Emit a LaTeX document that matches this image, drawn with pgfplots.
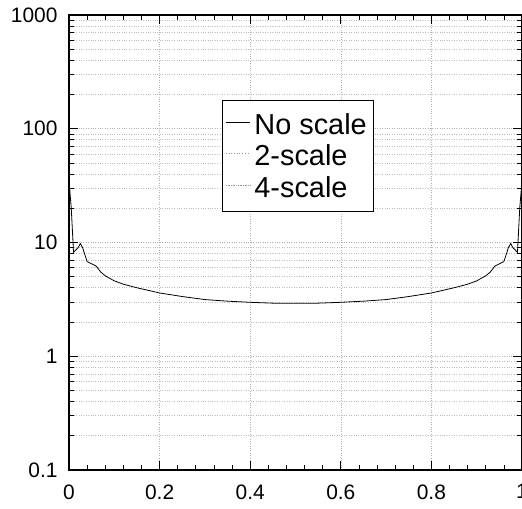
\documentclass[border=0pt]{standalone}
\usepackage{pgfplots}
\pgfplotsset{compat=1.18}
\usepackage{fontspec}
\setmainfont{Liberation Sans}
\begin{document}
\begin{tikzpicture}[trim axis right]
\begin{axis}[
  width=453bp, height=455bp, scale only axis,
  xmin=0, xmax=1, ymin=0.1, ymax=1000,
  ymode=log,
  xtick={0,0.2,0.4,0.6,0.8,1},
  xticklabels={0,0.2,0.4,0.6,0.8,1},
  minor x tick num=4,
  ytick={0.1,1,10,100,1000},
  yticklabels={0.1,1,10,100,1000},
  tick align=inside,
  major tick length=9bp, minor tick length=5bp,
  tick style={black, line width=0.7pt},
  xmajorgrids, ymajorgrids, yminorgrids,
  major grid style={gray!60, dotted, line width=0.6pt},
  minor grid style={gray!50, dotted, line width=0.6pt},
  axis line style={black, line width=1.3pt},
  tick label style={font=\fontsize{21}{21}\selectfont},
  xticklabel style={yshift=-11bp},
  yticklabel style={xshift=-8bp},
  legend style={at={(0.338,0.813)}, anchor=north west, draw=black, line width=1pt,
    font=\fontsize{29}{29}\selectfont, inner xsep=3bp, inner ysep=11bp, row sep=5bp,
    nodes={inner xsep=4bp, inner ysep=2bp}},
  legend cell align=left,
  legend image code/.code={\draw[#1] (0cm,0.25em) -- (24bp,0.25em);},
]
\addplot[black, line width=0.8pt] coordinates {
(0,35) (0.005,20) (0.01,8.2) (0.02,9.0) (0.025,9.8) (0.03,9.0) (0.04,6.8) (0.05,6.5) (0.06,6.2)
(0.07,5.5) (0.08,5.1) (0.1,4.6) (0.12,4.3) (0.15,4.0) (0.2,3.6) (0.25,3.35) (0.3,3.15)
(0.35,3.05) (0.4,2.98) (0.45,2.93) (0.5,2.92)
(0.55,2.93) (0.6,2.98) (0.65,3.05) (0.7,3.15) (0.75,3.35) (0.8,3.6) (0.85,4.0) (0.88,4.3)
(0.9,4.6) (0.92,5.1) (0.93,5.5) (0.94,6.2) (0.95,6.5) (0.96,6.8) (0.97,9.0) (0.975,9.8)
(0.98,9.0) (0.99,8.2) (0.995,20) (1,35)
};
\addlegendentry{No scale}
\addlegendimage{gray!80, dotted, line width=0.7pt}
\addlegendentry{2-scale}
\addlegendimage{gray!80, densely dotted, line width=0.7pt}
\addlegendentry{4-scale}
\end{axis}
\path ([yshift=15bp,xshift=-69bp]current axis.north west) ([yshift=-39bp]current axis.south);
\end{tikzpicture}
\end{document}
